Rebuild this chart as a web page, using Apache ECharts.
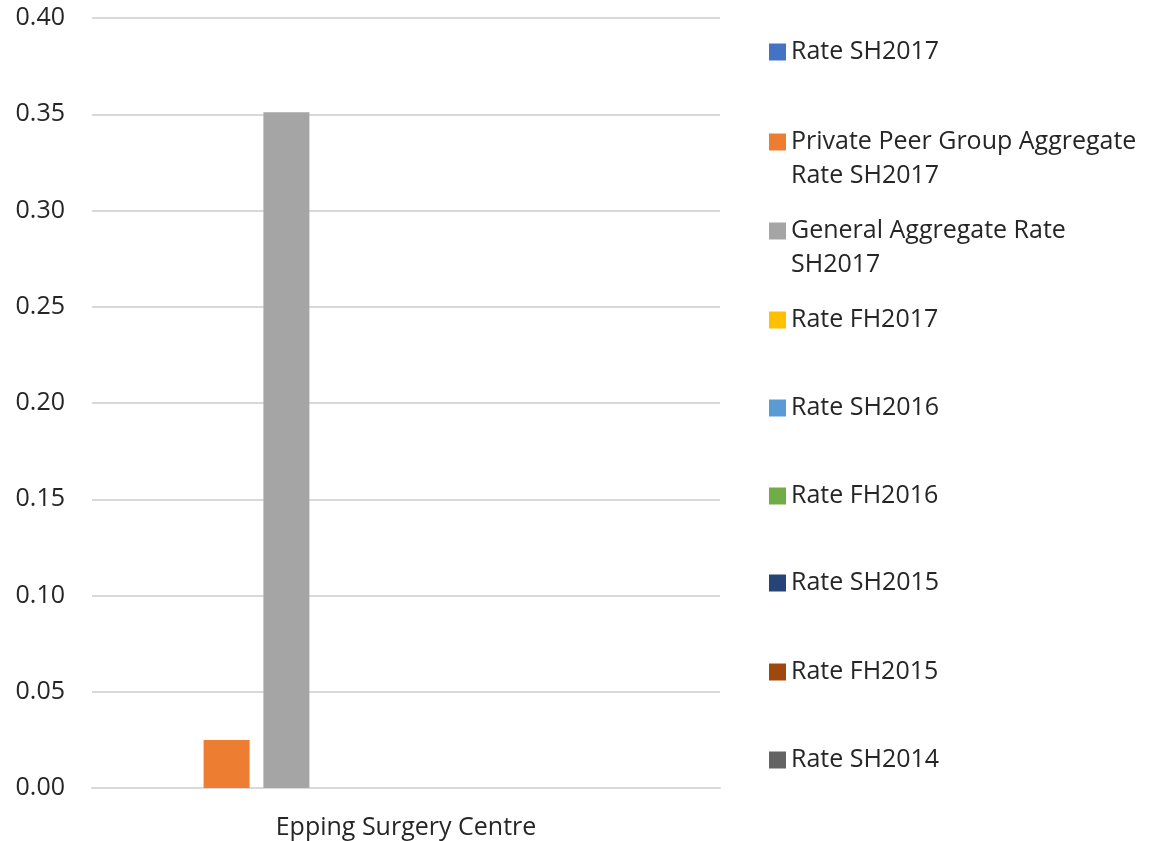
<!DOCTYPE html>
<html>
<head>
<meta charset="utf-8">
<script src="https://cdn.jsdelivr.net/npm/echarts@6/dist/echarts.min.js"></script>
<style>
  html, body { margin: 0; padding: 0; background: #fff; }
  #chart { width: 1153px; height: 841px; }
</style>
</head>
<body>
<div id="chart"></div>
<script>
// data
const categories = ['Epping Surgery Centre']
const seriesNames = [
  'Rate SH2017',
  'Private Peer Group Aggregate Rate SH2017',
  'General Aggregate Rate SH2017',
  'Rate FH2017',
  'Rate SH2016',
  'Rate FH2016',
  'Rate SH2015',
  'Rate FH2015',
  'Rate SH2014'
]
const seriesValues = [
  [null],
  [0.025],
  [0.351],
  [null],
  [null],
  [null],
  [null],
  [null],
  [null]
]
const yTicks = ['0.00', '0.05', '0.10', '0.15', '0.20', '0.25', '0.30', '0.35', '0.40']

const colors = ['#4472C4', '#ED7D31', '#A5A5A5', '#FFC000', '#5B9BD5', '#70AD47', '#264478', '#9E480E', '#636363']
// legend label text (Excel wraps the long ones)
const legendLabels = {
  'Private Peer Group Aggregate Rate SH2017': ['Private Peer Group Aggregate', 'Rate SH2017'],
  'General Aggregate Rate SH2017': ['General Aggregate Rate', 'SH2017']
}
const legendCenters = [52, 142, 231, 320, 408, 496, 583, 672, 760]
const fontFamily = '"Open Sans", "Noto Sans", sans-serif'
const fontSize = 25
const lineH = 34

let myChart = echarts.init(document.getElementById('chart'))

// one legend per entry so each sits where excel put it
let legends = seriesNames.map((name, index) => {
  const lines = legendLabels[name]
  return {
    orient: 'vertical',
    left: 769,
    top: legendCenters[index] - (lines ? lineH * 1.5 : lineH / 2),
    padding: 0,
    selectedMode: false,
    icon: 'rect',
    itemWidth: 17,
    itemHeight: 17,
    itemGap: 0,
    // empty first line keeps the square level with the first text line
    formatter: n => lines ? '\n' + lines.join('\n') : n,
    textStyle: {
      fontFamily: fontFamily,
      fontSize: fontSize,
      color: '#262626',
      lineHeight: lineH
    },
    data: [name]
  }
})

var option = {
  animation: false,
  color: colors,
  legend: legends,
  grid: {
    left: 92,
    right: 433,
    top: 18,
    bottom: 53,
    containLabel: false
  },
  xAxis: {
    type: 'category',
    data: categories,
    axisTick: { show: false },
    axisLine: { lineStyle: { color: '#d9d9d9', width: 2 } },
    axisLabel: {
      margin: 27,
      fontFamily: fontFamily,
      fontSize: fontSize,
      color: '#262626'
    }
  },
  yAxis: {
    type: 'value',
    min: 0,
    max: 0.4,
    interval: 0.05,
    axisLine: { show: false },
    axisTick: { show: false },
    splitLine: { lineStyle: { color: '#d9d9d9', width: 2 } },
    axisLabel: {
      margin: 27,
      fontFamily: fontFamily,
      fontSize: fontSize,
      color: '#262626',
      formatter: v => yTicks[Math.round(v / 0.05)]
    }
  },
  series: seriesNames.map((name, index) => {
    return {
      name: name,
      type: 'bar',
      barWidth: 46,
      barGap: '30%',
      data: seriesValues[index]
    }
  })
}
myChart.setOption(option)
</script>
</body>
</html>
